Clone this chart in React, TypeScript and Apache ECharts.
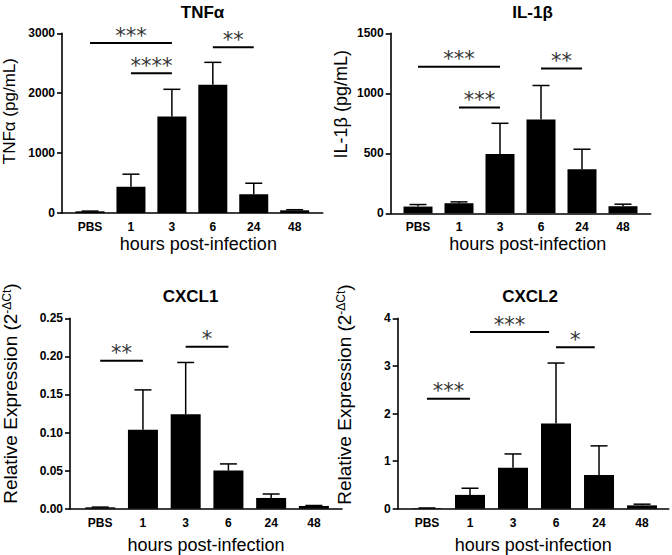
import React, { useEffect, useRef } from "react";
import * as echarts from "echarts";

// ---- data ----
const categories = ["PBS", "1", "3", "6", "24", "48"];

const tnfMean = [28, 440, 1610, 2140, 313, 45];
const tnfSem = [4, 208, 455, 375, 184, 10];

const il1bMean = [56, 84, 494, 782, 368, 59];
const il1bSem = [17, 11, 256, 283, 166, 17];

const cxcl1Mean = [0.0018, 0.1036, 0.124, 0.05, 0.0141, 0.0036];
const cxcl1Sem = [0.0003, 0.0524, 0.068, 0.0088, 0.0052, 0.0006];

const cxcl2Mean = [0.01, 0.29, 0.86, 1.79, 0.71, 0.07];
const cxcl2Sem = [0.005, 0.14, 0.29, 1.27, 0.61, 0.025];

// significance brackets: from index, to index, height (data units), label
const tnfSigFrom = [0, 1, 3];
const tnfSigTo = [2, 2, 4];
const tnfSigY = [2836, 2333, 2769];
const tnfSigLabel = ["***", "****", "**"];

const il1bSigFrom = [0, 1, 3];
const il1bSigTo = [2, 2, 4];
const il1bSigY = [1222, 882, 1206];
const il1bSigLabel = ["***", "***", "**"];

const cxcl1SigFrom = [0, 2];
const cxcl1SigTo = [1, 3];
const cxcl1SigY = [0.1943, 0.2128];
const cxcl1SigLabel = ["**", "*"];

const cxcl2SigFrom = [0, 1, 3];
const cxcl2SigTo = [1, 2.84, 3.9];
const cxcl2SigY = [2.31, 3.71, 3.39];
const cxcl2SigLabel = ["***", "***", "*"];

const titles = ["TNFα", "IL-1β", "CXCL1", "CXCL2"];
const yNames = [
  "TNFα (pg/mL)",
  "IL-1β (pg/mL)",
  "Relative Expression (2{sup|-ΔCt})",
  "Relative Expression (2{sup|-ΔCt})",
];
const yMax = [3000, 1500, 0.25, 4];
const yInterval = [1000, 500, 0.05, 1];
const xName = "hours post-infection";

const FONT = '"Liberation Sans", Arial, Helvetica, sans-serif';

export default function App() {
  const ref = useRef<HTMLDivElement>(null);

  useEffect(() => {
    if (!ref.current) return;
    const chart = echarts.init(ref.current, undefined, { renderer: "svg" });

    const panels = [
      {
        mean: tnfMean, sem: tnfSem,
        sig: { from: tnfSigFrom, to: tnfSigTo, y: tnfSigY, label: tnfSigLabel },
        grid: { left: 62, top: 33.3, width: 260.7, height: 179.7 },
        xMin: -0.685, xMax: 5.685, barWidth: 29,
        yGap: 44, yPad: 24, yFont: 17, xGap: 22, xPad: 12,
        title: { x: 197.5, y: -1 }, fmt: (v: number) => String(v),
      },
      {
        mean: il1bMean, sem: il1bSem,
        sig: { from: il1bSigFrom, to: il1bSigTo, y: il1bSigY, label: il1bSigLabel },
        grid: { left: 390.7, top: 33.3, width: 260, height: 180 },
        xMin: -0.666, xMax: 5.676, barWidth: 29,
        yGap: 41, yPad: 38, yFont: 18, xGap: 22, xPad: 14,
        title: { x: 527.5, y: -1 }, fmt: (v: number) => String(v),
      },
      {
        mean: cxcl1Mean, sem: cxcl1Sem,
        sig: { from: cxcl1SigFrom, to: cxcl1SigTo, y: cxcl1SigY, label: cxcl1SigLabel },
        grid: { left: 68.3, top: 318.3, width: 273.7, height: 190.4 },
        xMin: -0.707, xMax: 5.658, barWidth: 30,
        yGap: 50, yPad: 40, yFont: 19, xGap: 27, xPad: 0,
        title: { x: 185.5, y: 283 }, fmt: (v: number) => v.toFixed(2),
      },
      {
        mean: cxcl2Mean, sem: cxcl2Sem,
        sig: { from: cxcl2SigFrom, to: cxcl2SigTo, y: cxcl2SigY, label: cxcl2SigLabel },
        grid: { left: 397.7, top: 318.3, width: 271, height: 190.4 },
        xMin: -0.681, xMax: 5.62, barWidth: 30,
        yGap: 44, yPad: 38, yFont: 19, xGap: 27, xPad: 0,
        title: { x: 525, y: 283 }, fmt: (v: number) => String(Math.round(v)),
      },
    ];

    const axisLineX = { show: true, onZero: false, lineStyle: { color: "#000", width: 1.6 } };
    const axisLineY = { show: true, onZero: false, lineStyle: { color: "#000", width: 1.6 } };

    const grid: any[] = [];
    const xAxis: any[] = [];
    const yAxis: any[] = [];
    const series: any[] = [];
    const title: any[] = [];

    panels.forEach((p, k) => {
      grid.push({ ...p.grid, containLabel: false });
      title.push({
        text: titles[k],
        left: p.title.x,
        top: p.title.y,
        textAlign: "center",
        textStyle: { fontFamily: FONT, fontWeight: "bold", fontSize: 17, color: "#000" },
      });
      xAxis.push({
        type: "value",
        gridIndex: k,
        min: p.xMin,
        max: p.xMax,
        axisLine: axisLineX,
        axisTick: { show: false },
        splitLine: { show: false },
        axisLabel: {
          customValues: [0, 1, 2, 3, 4, 5],
          formatter: (v: number) => categories[Math.round(v)] ?? "",
          fontFamily: FONT,
          fontWeight: "bold",
          fontSize: 12,
          color: "#000",
          margin: 8,
        },
        name: xName,
        nameLocation: "middle",
        nameGap: p.xGap,
        nameTextStyle: {
          fontFamily: FONT,
          fontSize: 18,
          color: "#000",
          padding: [0, 0, 0, p.xPad],
        },
      });
      yAxis.push({
        type: "value",
        gridIndex: k,
        min: 0,
        max: yMax[k],
        interval: yInterval[k],
        axisLine: axisLineY,
        axisTick: { show: true, inside: false, length: 5, lineStyle: { color: "#000", width: 1.6 } },
        splitLine: { show: false },
        axisLabel: {
          formatter: p.fmt,
          fontFamily: FONT,
          fontWeight: "bold",
          fontSize: 12,
          color: "#000",
          margin: 7,
        },
        name: yNames[k],
        nameLocation: "middle",
        nameGap: p.yGap,
        nameRotate: 90,
        nameTextStyle: {
          fontFamily: FONT,
          fontSize: p.yFont,
          color: "#000",
          padding: [0, 0, 0, p.yPad],
          rich: {
            sup: { fontFamily: FONT, fontSize: 12, color: "#000", verticalAlign: "top", lineHeight: 12 },
          },
        },
      });

      series.push({
        type: "bar",
        xAxisIndex: k,
        yAxisIndex: k,
        barWidth: p.barWidth,
        itemStyle: { color: "#000" },
        data: p.mean.map((v, i) => [i, v]),
        z: 2,
      });

      series.push({
        type: "custom",
        xAxisIndex: k,
        yAxisIndex: k,
        encode: { x: 0, y: 1 },
        data: p.mean.map((v, i) => [i, v, p.sem[i]]),
        z: 3,
        renderItem: (params: any, api: any) => {
          const i = api.value(0);
          const m = api.value(1);
          const s = api.value(2);
          const base = api.coord([i, m]);
          const top = api.coord([i, m + s]);
          const half = 8.5;
          return {
            type: "group",
            children: [
              {
                type: "line",
                shape: { x1: base[0], y1: base[1], x2: top[0], y2: top[1] },
                style: { stroke: "#000", lineWidth: 1.5 },
              },
              {
                type: "line",
                shape: { x1: top[0] - half, y1: top[1], x2: top[0] + half, y2: top[1] },
                style: { stroke: "#000", lineWidth: 1.5 },
              },
            ],
          };
        },
      });

      const sigData = p.sig.from.map((f, j) => [f, p.sig.to[j], p.sig.y[j]]);
      const labels = p.sig.label;
      series.push({
        type: "custom",
        xAxisIndex: k,
        yAxisIndex: k,
        encode: { x: [0, 1], y: 2 },
        data: sigData,
        z: 4,
        clip: false,
        renderItem: (params: any, api: any) => {
          const a = api.coord([api.value(0), api.value(2)]);
          const b = api.coord([api.value(1), api.value(2)]);
          return {
            type: "group",
            children: [
              {
                type: "line",
                shape: { x1: a[0], y1: a[1], x2: b[0], y2: b[1] },
                style: { stroke: "#000", lineWidth: 2 },
              },
              {
                type: "text",
                x: (a[0] + b[0]) / 2,
                y: a[1] + 3,
                style: {
                  text: labels[params.dataIndex],
                  fill: "#333",
                  fontFamily: '"DejaVu Sans", sans-serif',
                  fontSize: 21,
                  align: "center",
                  verticalAlign: "bottom",
                },
              },
            ],
          };
        },
      });
    });

    chart.setOption({
      animation: false,
      backgroundColor: "#fff",
      title,
      grid,
      xAxis,
      yAxis,
      series,
    });

    return () => chart.dispose();
  }, []);

  return (
    <div
      ref={ref}
      style={{ position: "absolute", left: 0, top: 0, width: 672, height: 555 }}
    />
  );
}
